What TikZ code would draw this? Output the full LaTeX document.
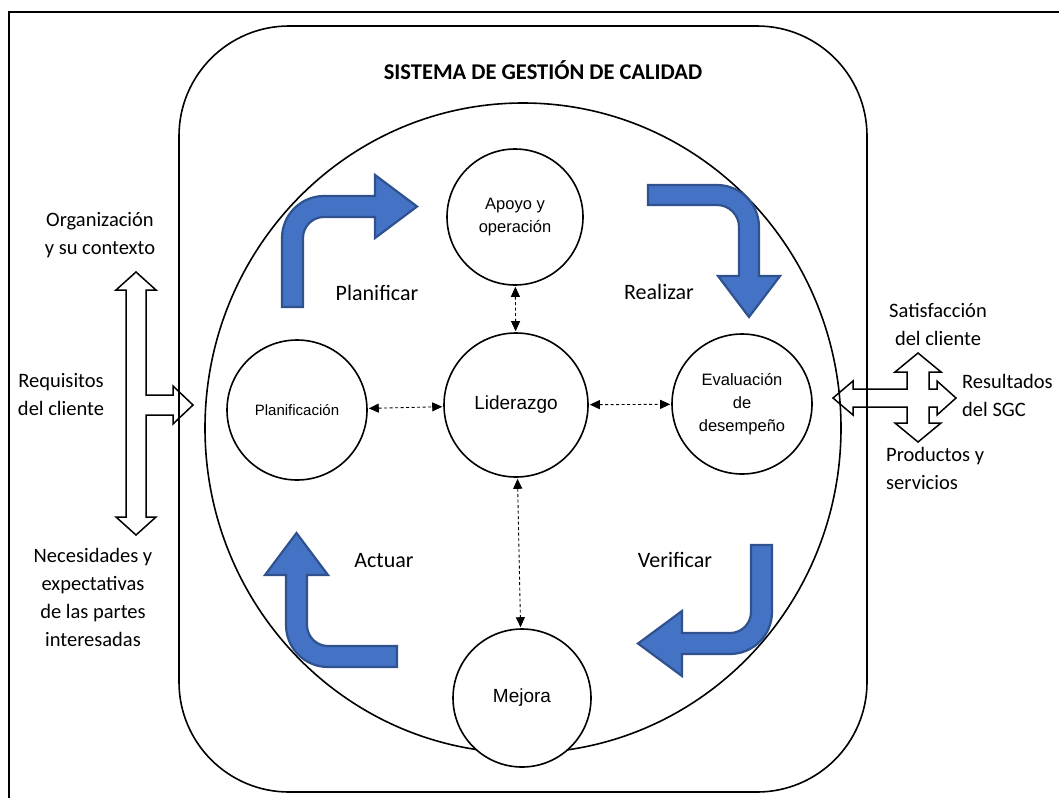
\documentclass[tikz,border=0pt]{standalone}
\usepackage{fontspec}
\setmainfont{Carlito}
\newfontfamily\arialf{Liberation Sans}
\usetikzlibrary{arrows.meta}
\definecolor{bfill}{HTML}{4472C4}
\definecolor{bline}{HTML}{2F528F}
\tikzset{
  circ/.style={circle, draw=black, fill=white, line width=1.6pt, minimum size=#1, inner sep=0pt, align=center},
  circ/.default=140pt,
  blue arrow/.style={fill=bfill, draw=bline, line width=2.2pt, line join=miter},
  hollow/.style={draw=black, line width=1.5pt, line join=miter},
  dasharrow/.style={line width=0.9pt, dash pattern=on 3pt off 2.5pt, {Triangle[length=10pt,width=9pt]}-{Triangle[length=10pt,width=9pt]}, shorten <=1pt, shorten >=1pt},
  side/.style={font=\fontsize{20.5}{28}\selectfont, align=center, inner sep=0pt},
  cyc/.style={font=\fontsize{22}{26}\selectfont, inner sep=0pt},
}
\begin{document}
\begin{tikzpicture}[x=1pt,y=-1pt]
\useasboundingbox (0,0) rectangle (1059,798);
% frame
\draw[line width=1.5pt] (9,798) -- (9,12) -- (1059,12);
% rounded system box
\draw[line width=1.6pt, rounded corners=110pt] (179,26) rectangle (867,792);
% big circle
\draw[line width=1.6pt] (523,428) ellipse [x radius=318pt, y radius=325pt];
% title
\node[font=\fontsize{22.5}{26}\selectfont\bfseries, inner sep=0pt] (title) at (543,70) {SISTEMA DE GESTIÓN DE CALIDAD};

% circles
\node[circ=136pt, font=\arialf\fontsize{16.5}{23}\selectfont] (apoyo) at (515,217) {Apoyo y\\operación};
\node[circ=144pt, font=\arialf\fontsize{19}{23}\selectfont] (lider) at (516,405) {Liderazgo};
\node[circ=140pt, font=\arialf\fontsize{15}{23}\selectfont] (planif) at (297,410) {Planificación};
\node[circ=140pt, font=\arialf\fontsize{16.5}{23}\selectfont] (eval) at (742,404) {Evaluación\\de\\desempeño};
\node[circ=138pt, font=\arialf\fontsize{19}{23}\selectfont] (mejora) at (522,698) {Mejora};

% dashed connectors
\draw[dasharrow] (apoyo) -- (lider);
\draw[dasharrow] (planif) -- (lider);
\draw[dasharrow] (lider) -- (eval);
\draw[dasharrow] (lider) -- (mejora);

% blue PDCA arrows
\draw[blue arrow] (282,307) -- (282,238) .. controls (282,214.8) and (300.8,196) .. (324,196) -- (375,196) -- (375,175) -- (417,206.5) -- (375,238) -- (375,217) -- (324,217) .. controls (312.4,217) and (303,226.4) .. (303,238) -- (303,307) -- cycle;
\draw[blue arrow] (648,185) -- (717,185) .. controls (740.2,185) and (759,203.8) .. (759,227) -- (759,276) -- (780,276) -- (749,317) -- (718,276) -- (739,276) -- (739,227) .. controls (739,214.85) and (729.15,205) .. (717,205) -- (648,205) -- cycle;
\draw[blue arrow] (397,667) -- (328,667) .. controls (304.8,667) and (286,648.2) .. (286,625) -- (286,575) -- (265,575) -- (296.5,533) -- (328,575) -- (307,575) -- (307,625) .. controls (307,636.6) and (316.4,646) .. (328,646) -- (397,646) -- cycle;
\draw[blue arrow] (751,545) -- (772,545) -- (772,612) .. controls (772,635.2) and (753.2,654) .. (730,654) -- (682,654) -- (682,676) -- (638,643.5) -- (682,611) -- (682,633) -- (730,633) .. controls (741.6,633) and (751,623.6) .. (751,612) -- cycle;

% cycle labels
\node[cyc] (lplan) at (377,293) {Planificar};
\node[cyc] (lreal) at (659,292) {Realizar};
\node[cyc] (lact) at (384,561) {Actuar};
\node[cyc] (lver) at (675,560) {Verificar};

% left hollow arrow
\draw[hollow] (136,272) -- (156,290) -- (146,290) -- (146,395) -- (173,395) -- (173,386) -- (193,405) -- (173,424) -- (173,415) -- (146,415) -- (146,517) -- (156,517) -- (136,535) -- (116,517) -- (126,517) -- (126,290) -- (116,290) -- cycle;
% right hollow arrow
\draw[hollow] (833,398) -- (853,381) -- (853,389) -- (907,389) -- (907,372) -- (895,372) -- (918,353) -- (941,372) -- (929,372) -- (929,389) -- (937,389) -- (937,381) -- (956,398) -- (937,415) -- (937,407) -- (929,407) -- (929,423) -- (941,423) -- (918,442) -- (895,423) -- (907,423) -- (907,407) -- (853,407) -- (853,415) -- cycle;

% side labels
\node[side] (org) at (100,235) {Organización\\y su contexto};
\node[side] (req) at (61,395) {Requisitos\\del cliente};
\node[side] (nec) at (93,597) {Necesidades y\\expectativas\\de las partes\\interesadas};
\node[side] (sat) at (938,324) {Satisfacción\\del cliente};
\node[side, align=left, anchor=west] (res) at (962,395) {Resultados\\del SGC};
\node[side, align=left, anchor=west] (prod) at (886,468) {Productos y\\servicios};
\end{tikzpicture}
\end{document}
